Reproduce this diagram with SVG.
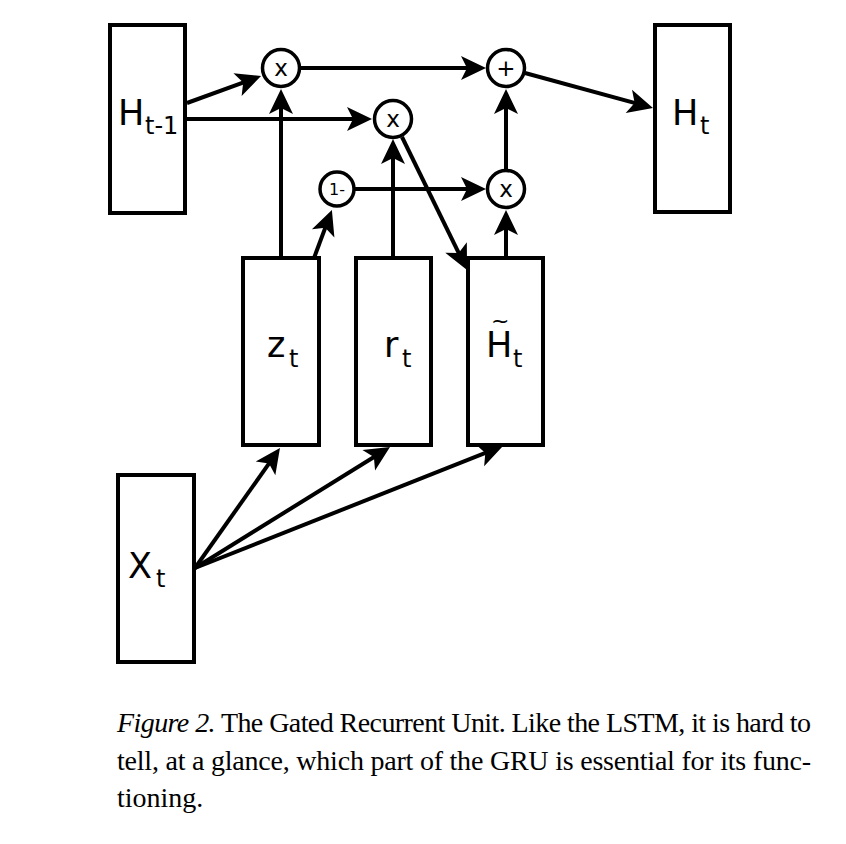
<svg xmlns="http://www.w3.org/2000/svg" width="846" height="844" viewBox="0 0 846 844">
<style>
.box{fill:#fff;stroke:#000;stroke-width:4}
.op{fill:#fff;stroke:#000;stroke-width:3.5}
.lbl{font-family:"DejaVu Sans",sans-serif;font-size:35px;fill:#000}
.sub{font-family:"DejaVu Sans",sans-serif;font-size:24px;fill:#000}
.opt{font-family:"DejaVu Sans",sans-serif;font-size:23px;fill:#000;text-anchor:middle}
.cap{font-family:"Liberation Serif","Times New Roman",serif;font-size:28px;fill:#000}
.conn line{stroke:#000;stroke-width:4;fill:none;marker-end:url(#ah)}
</style>
<defs>
<marker id="ah" markerUnits="userSpaceOnUse" markerWidth="30" markerHeight="30" refX="19" refY="0" orient="auto" overflow="visible">
<path d="M0,-12 L25,0 L0,12 L6,0 Z" fill="#000"/>
</marker>
</defs>
<rect width="846" height="844" fill="#fff"/>
<g class="conn" id="connectors">
<line x1="187" y1="103" x2="255.4" y2="78.1"/>
<line x1="187" y1="119" x2="366" y2="119"/>
<line x1="300" y1="68" x2="480" y2="68"/>
<line x1="281" y1="258" x2="281" y2="95"/>
<line x1="314" y1="258" x2="329.8" y2="215.6"/>
<line x1="393" y1="258" x2="393" y2="145"/>
<line x1="402" y1="137" x2="464.4" y2="264.6"/>
<line x1="355" y1="189" x2="480" y2="189"/>
<line x1="506" y1="258" x2="506" y2="216"/>
<line x1="506" y1="170" x2="506" y2="95"/>
<line x1="525" y1="73" x2="647.2" y2="106.4"/>
<line x1="195" y1="568" x2="276.5" y2="452.9"/>
<line x1="195" y1="568" x2="384.9" y2="450.2"/>
<line x1="195" y1="568" x2="497.4" y2="448.2"/>
</g>
<g id="h_prev">
<rect class="box" x="110" y="25" width="75" height="188"/>
<text class="lbl" x="118" y="125">H</text><text class="sub" x="145" y="134">t-1</text>
</g>
<g id="h_t">
<rect class="box" x="655" y="25" width="75" height="187"/>
<text class="lbl" x="672" y="125">H</text><text class="sub" x="700" y="134">t</text>
</g>
<g id="z_t">
<rect class="box" x="243" y="258" width="76" height="187"/>
<text class="lbl" x="267" y="357">z</text><text class="sub" x="289" y="367">t</text>
</g>
<g id="r_t">
<rect class="box" x="356" y="258" width="75" height="187"/>
<text class="lbl" x="384" y="357">r</text><text class="sub" x="402" y="367">t</text>
</g>
<g id="h_tilde">
<rect class="box" x="468" y="258" width="75" height="187"/>
<text class="lbl" x="486" y="357">H</text><text class="lbl" x="491" y="328" style="font-size:22px">~</text><text class="sub" x="513" y="367">t</text>
</g>
<g id="x_t">
<rect class="box" x="118" y="475" width="76" height="187"/>
<text class="lbl" x="128" y="578">X</text><text class="sub" x="156" y="587">t</text>
</g>
<g id="mul1">
<circle class="op" cx="281" cy="68" r="18.5"/>
<text class="opt" x="281" y="76">x</text>
</g>
<g id="mul2">
<circle class="op" cx="393" cy="119" r="18.5"/>
<text class="opt" x="393" y="127">x</text>
</g>
<g id="one_minus">
<circle class="op" cx="337" cy="189" r="17"/>
<text class="opt" x="337" y="195" style="font-size:16px">1-</text>
</g>
<g id="mul3">
<circle class="op" cx="506" cy="189" r="18.5"/>
<text class="opt" x="506" y="197">x</text>
</g>
<g id="plus">
<circle class="op" cx="506" cy="68" r="18.5"/>
<text class="opt" x="506" y="76">+</text>
</g>
<g id="caption">
<text class="cap" x="117" y="732" textLength="694" lengthAdjust="spacing"><tspan font-style="italic">Figure 2.</tspan> The Gated Recurrent Unit. Like the LSTM, it is hard to</text>
<text class="cap" x="117" y="770" textLength="694" lengthAdjust="spacing">tell, at a glance, which part of the GRU is essential for its func-</text>
<text class="cap" x="117" y="807">tioning.</text>
</g>
</svg>
